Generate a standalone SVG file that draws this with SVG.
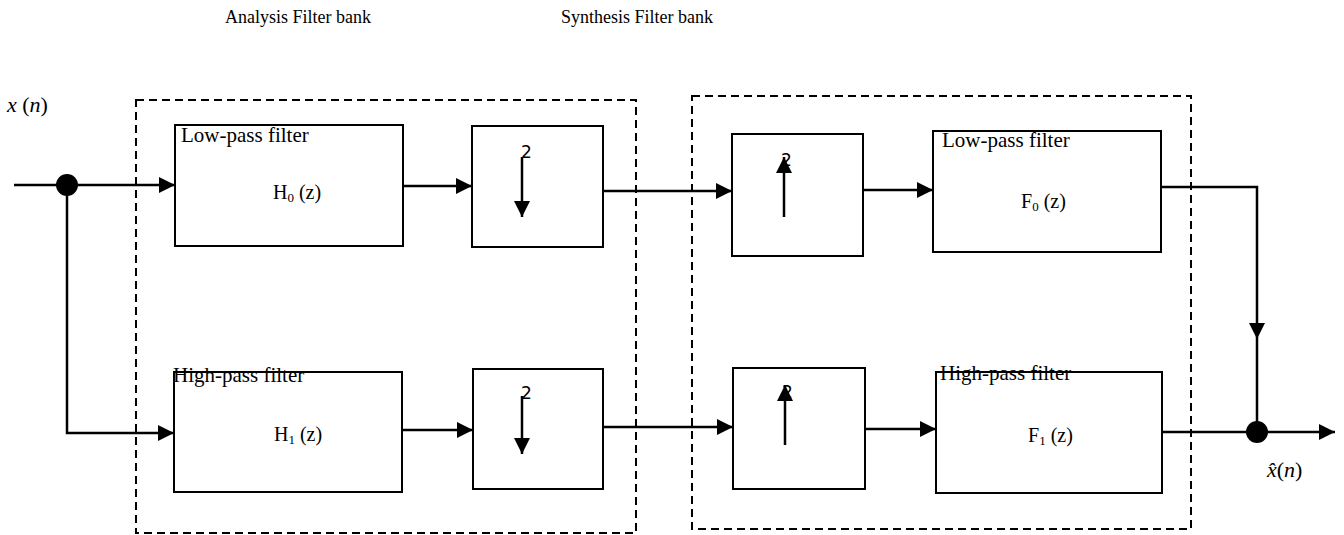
<svg xmlns="http://www.w3.org/2000/svg" width="1344" height="535" viewBox="0 0 1344 535">
<style>
.box{fill:#fff;stroke:#000;stroke-width:2}
.dash{fill:none;stroke:#000;stroke-width:2;stroke-dasharray:8,5}
.wire{fill:none;stroke:#000;stroke-width:2.5}
.arr{marker-end:url(#ah)}
.t{font-family:"Liberation Serif",serif;fill:#000}
.lbl{font-size:21px}
.fn{font-size:20px}
.ttl{font-size:18px}
.two{font-family:"DejaVu Sans","Liberation Sans",sans-serif;font-size:17px;fill:#000}
.math{font-family:"Liberation Serif",serif;font-size:22px;fill:#000}
.it{font-style:italic}
</style>
<defs>
<marker id="ah" markerUnits="userSpaceOnUse" markerWidth="16" markerHeight="16" viewBox="0 0 16 16" refX="16" refY="8" orient="auto">
<path d="M0,0 L16,8 L0,16 Z" fill="#000"/>
</marker>
</defs>
<rect width="1344" height="535" fill="#fff"/>

<text class="t ttl" x="225" y="23">Analysis Filter bank</text>
<text class="t ttl" x="561" y="23">Synthesis Filter bank</text>

<g id="analysis-bank"><rect class="dash" x="136" y="100" width="500" height="433"/></g>
<g id="synthesis-bank"><rect class="dash" x="692" y="96" width="499" height="433"/></g>

<g id="input-label"><text class="math" x="7" y="112"><tspan class="it">x</tspan> (<tspan class="it">n</tspan>)</text></g>
<g id="output-label"><text class="math" x="1267" y="477"><tspan class="it">x̂</tspan>(<tspan class="it">n</tspan>)</text></g>

<g id="H0">
<rect class="box" x="175" y="125" width="228" height="121"/>
<text class="t lbl" x="181" y="142">Low-pass filter</text>
<text class="t fn" x="273" y="199">H<tspan font-size="13" dy="3">0</tspan><tspan dy="-3"> (z)</tspan></text>
</g>
<g id="H1">
<rect class="box" x="174" y="372" width="228" height="120"/>
<text class="t lbl" x="173" y="382">High-pass filter</text>
<text class="t fn" x="274" y="441">H<tspan font-size="13" dy="3">1</tspan><tspan dy="-3"> (z)</tspan></text>
</g>
<g id="down1">
<rect class="box" x="472" y="126" width="131" height="121"/>
<text class="two" x="521" y="158">2</text>
<line class="wire arr" x1="522" y1="157" x2="522" y2="217"/>
</g>
<g id="down2">
<rect class="box" x="473" y="369" width="130" height="120"/>
<text class="two" x="521" y="399">2</text>
<line class="wire arr" x1="522" y1="396" x2="522" y2="454"/>
</g>
<g id="up1">
<rect class="box" x="732" y="134" width="131" height="122"/>
<text class="two" x="781" y="166">2</text>
<line class="wire arr" x1="784" y1="217" x2="784" y2="157"/>
</g>
<g id="up2">
<rect class="box" x="733" y="368" width="132" height="121"/>
<text class="two" x="782" y="398">2</text>
<line class="wire arr" x1="785" y1="445" x2="785" y2="385"/>
</g>
<g id="F0">
<rect class="box" x="933" y="131" width="228" height="121"/>
<text class="t lbl" x="942" y="147">Low-pass filter</text>
<text class="t fn" x="1021" y="208">F<tspan font-size="13" dy="3">0</tspan><tspan dy="-3"> (z)</tspan></text>
</g>
<g id="F1">
<rect class="box" x="936" y="372" width="226" height="121"/>
<text class="t lbl" x="940" y="380">High-pass filter</text>
<text class="t fn" x="1028" y="442">F<tspan font-size="13" dy="3">1</tspan><tspan dy="-3"> (z)</tspan></text>
</g>

<g id="connectors">
<line class="wire" x1="14" y1="185" x2="67" y2="185"/>
<line class="wire arr" x1="67" y1="185" x2="175" y2="185"/>
<polyline class="wire arr" points="67,185 67,433 174,433"/>
<line class="wire arr" x1="403" y1="186" x2="472" y2="186"/>
<line class="wire arr" x1="402" y1="430" x2="473" y2="430"/>
<line class="wire arr" x1="603" y1="191" x2="732" y2="191"/>
<line class="wire arr" x1="603" y1="427" x2="733" y2="427"/>
<line class="wire arr" x1="863" y1="190" x2="933" y2="190"/>
<line class="wire arr" x1="865" y1="429" x2="936" y2="429"/>
<polyline class="wire arr" points="1161,187 1257,187 1257,339"/>
<line class="wire" x1="1257" y1="339" x2="1257" y2="432"/>
<line class="wire arr" x1="1162" y1="432" x2="1335" y2="432"/>
<circle cx="67" cy="185" r="11" fill="#000"/>
<circle cx="1257" cy="432" r="11" fill="#000"/>
</g>
</svg>
